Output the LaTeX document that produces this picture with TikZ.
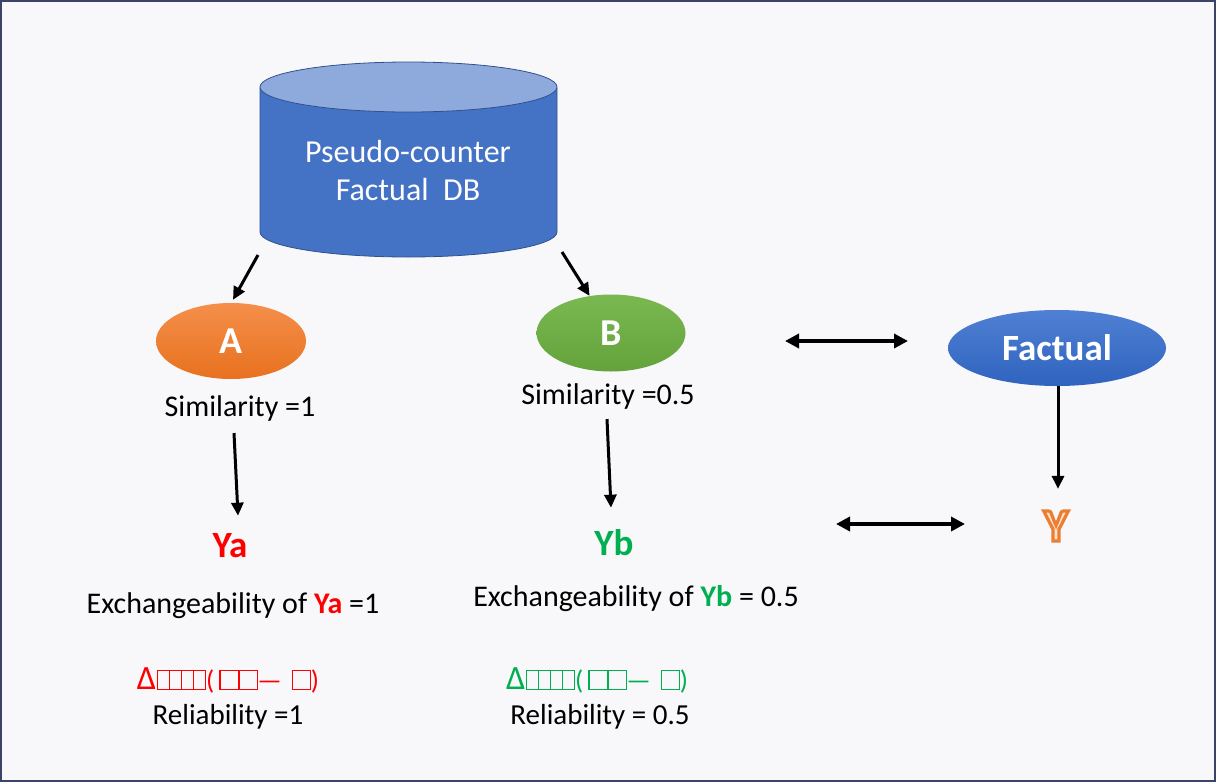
\documentclass[tikz,border=0pt]{standalone}
\usepackage{fontspec}
\setmainfont{Carlito}
\usetikzlibrary{arrows.meta,calc,shapes.geometric}
\definecolor{bgc}{HTML}{F8F8FA}
\definecolor{bordc}{HTML}{3A4468}
\definecolor{cylbody}{HTML}{4472C4}
\definecolor{cyltop}{HTML}{8EA9DB}
\definecolor{cyledge}{HTML}{2F528F}
\definecolor{orgT}{HTML}{F48F4A}
\definecolor{orgB}{HTML}{E8711F}
\definecolor{grnT}{HTML}{7AB852}
\definecolor{grnB}{HTML}{64A23C}
\definecolor{bluT}{HTML}{4F80D4}
\definecolor{bluB}{HTML}{2F63BE}
\definecolor{grn}{HTML}{00B050}
\definecolor{orgfill}{HTML}{FBE3D2}
\setlength\fboxsep{0pt}
\setlength\fboxrule{1.3pt}
\newcommand\nb[1]{\fbox{\rule{0pt}{18pt}\hspace{#1}}}
\newcommand\dlt{{\fontsize{34}{36}\selectfont Δ}}
\tikzset{
  txt/.style={inner sep=0pt, font=\fontsize{30}{36}\selectfont, text=black},
  rel/.style={inner sep=0pt, font=\fontsize{29}{34}\selectfont, text=black},
  big/.style={inner sep=0pt, font=\bfseries\fontsize{37}{42}\selectfont},
  oval/.style={ellipse, inner sep=0pt, text=white, font=\bfseries\fontsize{38}{40}\selectfont},
  arr/.style={-{Triangle[length=13pt,width=12pt]}, line width=3pt, black},
  darr/.style={{Triangle[length=14pt,width=14pt]}-{Triangle[length=14pt,width=14pt]}, line width=4pt, black},
  frm/.style={inner sep=0pt, font=\fontsize{27}{30}\selectfont}
}
\begin{document}
\begin{tikzpicture}[x=1pt,y=-1pt]
\useasboundingbox (0,0) rectangle (1216,782);
\fill[bgc] (0,0) rectangle (1216,782);
\draw[line width=2pt, bordc] (1,1) rectangle (1215,781);
% cylinder
\filldraw[fill=cylbody, draw=cyledge, line width=0.8pt] (260,88) -- (260,232) arc[start angle=180,end angle=0,x radius=148.5,y radius=25] -- (557,88) -- cycle;
\filldraw[fill=cyltop, draw=cyledge, line width=0.8pt] (408.5,87) ellipse[x radius=148.5,y radius=25];
\node[inner sep=0pt, text=white, align=center, font=\fontsize{32}{38}\selectfont] (db) at (408,171) {Pseudo-counter\\Factual\ \ DB};
\coordinate (dbL) at (258,255);
\coordinate (dbR) at (562,252);
% ovals
\node[oval, minimum width=150pt, minimum height=76pt, top color=orgT, bottom color=orgB] (A) at (231,341) {A};
\node[oval, minimum width=149pt, minimum height=77pt, top color=grnT, bottom color=grnB] (B) at (611,333) {B};
\node[oval, minimum width=218pt, minimum height=76pt, top color=bluT, bottom color=bluB, font=\bfseries\fontsize{37}{40}\selectfont] (F) at (1057,348) {Factual};
% texts
\node[txt] (sa) at (240,408) {Similarity =1};
\node[txt] (sb) at (608,396) {Similarity =0.5};
\node[big, text=red] (Ya) at (230,546) {Ya};
\node[big, text=grn] (Yb) at (614,543) {Yb};
\node[inner sep=0pt, font=\bfseries\fontsize{46}{50}\selectfont, text=orgfill] (Y) at (1056,526) {\special{pdf:literal direct 2 Tr 3.2 w 0.929 0.490 0.192 RG}Y\special{pdf:literal direct 0 Tr 0.984 0.890 0.824 RG}};
\node[txt] (ea) at (233,606) {Exchangeability of \textcolor{red}{\textbf{Ya}} =1};
\node[txt] (eb) at (636,599) {Exchangeability of \textcolor{grn}{\textbf{Yb}} = 0.5};
\node[frm, text=red] (fa) at (228,680) {\dlt\kern1pt\nb{10.4pt}\kern-1pt\nb{10.4pt}\kern-1pt\nb{10.4pt}\kern-1pt\nb{10.4pt}(\kern5pt\nb{17.4pt}\kern-1pt\nb{17.4pt}\kern-1pt—\kern10pt\nb{16.4pt})};
\node[frm, text=grn] (fb) at (597,680) {\dlt\kern1pt\nb{10.4pt}\kern-1pt\nb{10.4pt}\kern-1pt\nb{10.4pt}\kern-1pt\nb{10.4pt}(\kern5pt\nb{17.4pt}\kern-1pt\nb{17.4pt}\kern-1pt—\kern10pt\nb{16.4pt})};
\node[rel] (ra) at (228,717) {Reliability =1};
\node[rel] (rb) at (600,717) {Reliability = 0.5};
% arrows
\draw[arr] (dbL) -- ([shift={(2,-3)}]A.north);
\draw[arr] (dbR) -- (B.120);
\draw[arr] ([shift={(-6,12)}]sa.south) -- ([shift={(8,-18)}]Ya.north);
\draw[arr] ([shift={(-1,10)}]sb.south) -- ([shift={(-3,-22)}]Yb.north);
\draw[arr] ([xshift=1pt]F.south) -- ([shift={(2,-22)}]Y.north);
\coordinate (d1a) at (785,341);
\coordinate (d1b) at (908,341);
\coordinate (d2a) at (836,524);
\coordinate (d2b) at (965,524);
\draw[darr] (d1a) -- (d1b);
\draw[darr] (d2a) -- (d2b);
\end{tikzpicture}
\end{document}
